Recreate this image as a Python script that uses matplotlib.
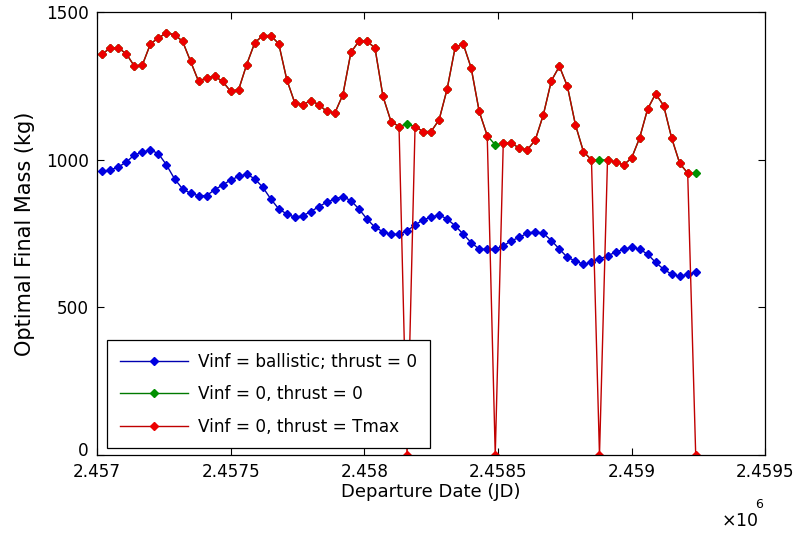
import numpy as np
import matplotlib
matplotlib.use('Agg')
import matplotlib.pyplot as plt
from matplotlib.ticker import FuncFormatter
from matplotlib.transforms import ScaledTranslation

# departure dates (JD), 30 day grid
jd_start = 2457020
jd_step = 30
n_pts = 75

# Vinf = ballistic; thrust = 0
mass_ballistic = [960, 965, 975, 992, 1016, 1025, 1033, 1020, 982, 935,
                  901, 886, 878, 878, 898, 914, 931, 943, 951, 935,
                  907, 867, 833, 816, 805, 810, 824, 841, 856, 867,
                  875, 861, 833, 799, 771, 756, 747, 747, 759, 779,
                  796, 805, 813, 799, 776, 748, 719, 697, 696, 696,
                  708, 725, 737, 751, 756, 750, 726, 697, 669, 657,
                  646, 652, 663, 675, 686, 697, 703, 697, 680, 652,
                  629, 612, 605, 612, 618]

# Vinf = 0, thrust = 0
mass_vinf0 = [1358, 1378, 1378, 1358, 1316, 1321, 1392, 1412, 1429, 1423,
              1401, 1333, 1265, 1277, 1282, 1265, 1231, 1237, 1322, 1395,
              1420, 1420, 1392, 1271, 1192, 1186, 1200, 1186, 1163, 1158,
              1220, 1363, 1401, 1401, 1378, 1214, 1129, 1112, 1121, 1112,
              1095, 1095, 1135, 1239, 1380, 1392, 1310, 1163, 1081, 1050,
              1056, 1056, 1039, 1033, 1067, 1152, 1267, 1316, 1248, 1118,
              1027, 999, 999, 999, 992, 982, 1005, 1073, 1171, 1223,
              1183, 1073, 988, 954, 954]

# Vinf = 0, thrust = Tmax : same as above except failed cases (0 kg)
zero_idx = [38, 49, 62, 74]

jd = jd_start + jd_step * np.arange(n_pts)
mass_tmax = np.array(mass_vinf0, dtype=float)
mass_tmax[zero_idx] = 0

plt.rcParams['font.family'] = ['DejaVu Sans']
plt.rcParams['font.size'] = 12.2

fig = plt.figure(figsize=(7.97, 5.42), dpi=100)
ax = fig.add_axes([0.1217, 0.1605, 0.8384, 0.8175])

ax.plot(jd, mass_ballistic, '-D', color='#0000b0', lw=1, ms=4.5,
        markerfacecolor='#0000e0', markeredgecolor='#0000e0',
        label='Vinf = ballistic; thrust = 0')
ax.plot(jd, mass_vinf0, '-D', color='#007a00', lw=1, ms=4.5,
        markerfacecolor='#009000', markeredgecolor='#009000',
        label='Vinf = 0, thrust = 0')
ax.plot(jd, mass_tmax, '-D', color='#c00000', lw=1, ms=4.5,
        markerfacecolor='#ec0000', markeredgecolor='#ec0000',
        label='Vinf = 0, thrust = Tmax')

ax.set_xlim(2457000, 2459500)
ax.set_ylim(0, 1500)
ax.set_xticks(np.arange(2457000, 2459501, 500))
ax.set_yticks([0, 500, 1000, 1500])
ax.xaxis.set_major_formatter(FuncFormatter(lambda v, p: '%g' % (v / 1e6)))
ax.tick_params(direction='in', top=True, right=True, length=5, width=0.8)
ax.tick_params(axis='x', pad=6)
ax.tick_params(axis='y', pad=6)
# lift the "0" a little so it clears the first date label
lbl0 = ax.yaxis.get_major_ticks()[0].label1
lbl0.set_transform(lbl0.get_transform() +
                   ScaledTranslation(0, 4 / 72, fig.dpi_scale_trans))
for s in ax.spines.values():
    s.set_linewidth(0.9)

ax.set_xlabel('Departure Date (JD)', fontsize=13, labelpad=1)
ax.set_ylabel('Optimal Final Mass (kg)', fontsize=15, labelpad=8)

fig.text(0.905, 0.03, r'$\times$10', fontsize=12.5)
fig.text(0.948, 0.062, '6', fontsize=9)

leg = ax.legend(loc='lower left', bbox_to_anchor=(0.015, 0.015),
                borderaxespad=0, fancybox=False, framealpha=1,
                edgecolor='black', handlelength=4.0, numpoints=1,
                labelspacing=0.85, borderpad=0.75, handletextpad=0.6,
                fontsize=12.2)
leg.get_frame().set_linewidth(0.9)

plt.savefig('out.png', dpi=100)
